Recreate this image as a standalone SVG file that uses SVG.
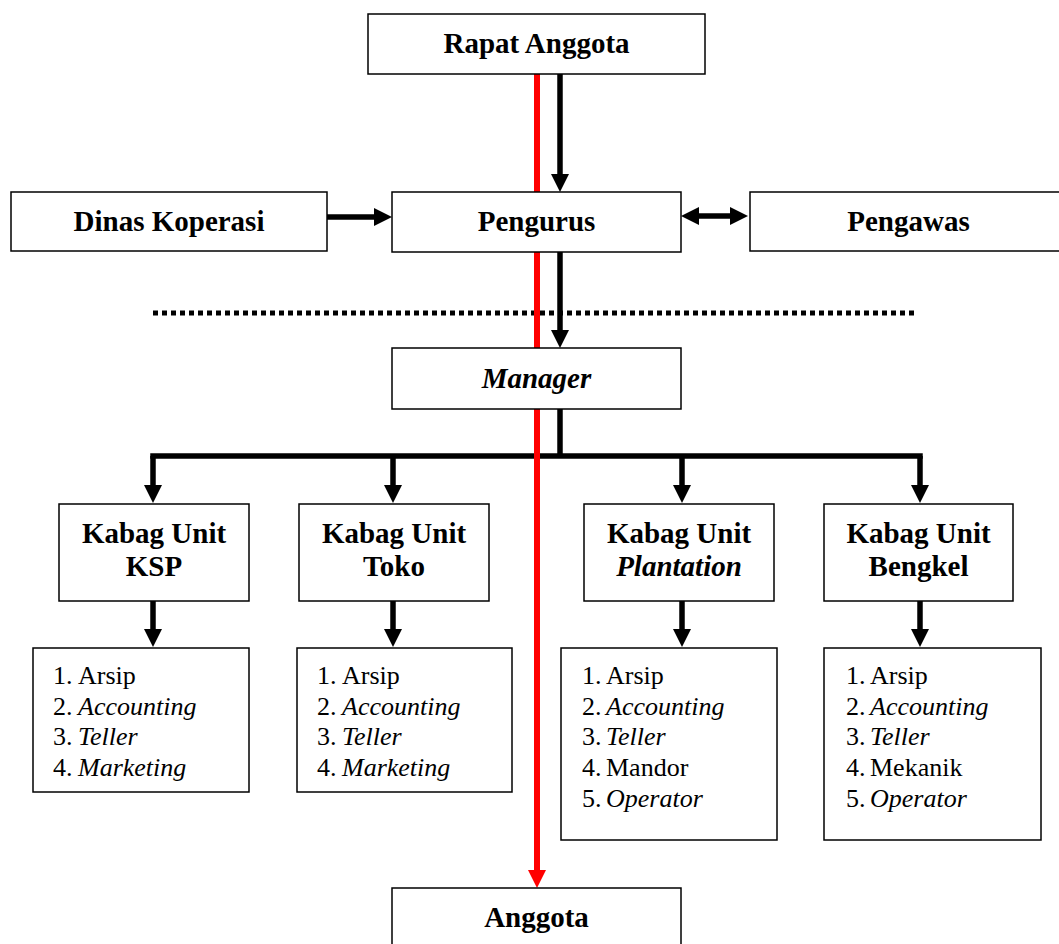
<svg xmlns="http://www.w3.org/2000/svg" width="1059" height="944" viewBox="0 0 1059 944">
<defs>
<style>
.box{fill:#fff;stroke:#000;stroke-width:1.5}
.t{font-family:"Liberation Serif","Times New Roman",serif;font-size:29px;font-weight:bold;fill:#000;text-anchor:middle}
.i{font-style:italic}
.li{font-family:"Liberation Serif","Times New Roman",serif;font-size:26px;fill:#000}
.c{fill:none;stroke:#000;stroke-width:5.5}
.red{fill:none;stroke:#f00;stroke-width:6}
.dot{fill:none;stroke:#000;stroke-width:5;stroke-dasharray:5 4}
</style>
<marker id="ah" markerUnits="userSpaceOnUse" markerWidth="18" markerHeight="18" refX="0" refY="9" orient="auto-start-reverse" viewBox="0 0 18 18">
<path d="M0,0 L18,9 L0,18 Z" fill="#000"/>
</marker>
<marker id="ahr" markerUnits="userSpaceOnUse" markerWidth="18" markerHeight="18" refX="0" refY="9" orient="auto" viewBox="0 0 18 18">
<path d="M0,0 L18,9 L0,18 Z" fill="#f00"/>
</marker>
</defs>
<rect width="1059" height="944" fill="#fff"/>

<g id="connectors">
<path class="dot" d="M153,313 H915"/>
<path class="c" d="M560,74 V174" marker-end="url(#ah)"/>
<path class="c" d="M560,252 V330" marker-end="url(#ah)"/>
<path class="c" d="M327,217 H374" marker-end="url(#ah)"/>
<path class="c" d="M699,216 H730" marker-start="url(#ah)" marker-end="url(#ah)"/>
<path class="c" d="M560,409 V456"/>
<path class="c" d="M150.25,456 H922.75"/>
<path class="c" d="M153,456 V485" marker-end="url(#ah)"/>
<path class="c" d="M393,456 V485" marker-end="url(#ah)"/>
<path class="c" d="M682,456 V485" marker-end="url(#ah)"/>
<path class="c" d="M920,456 V485" marker-end="url(#ah)"/>
<path class="c" d="M153,601 V629" marker-end="url(#ah)"/>
<path class="c" d="M393,601 V629" marker-end="url(#ah)"/>
<path class="c" d="M682,601 V629" marker-end="url(#ah)"/>
<path class="c" d="M920,601 V629" marker-end="url(#ah)"/>
<path class="red" d="M537,74 V870" marker-end="url(#ahr)"/>
</g>

<g id="rapat-anggota">
<rect class="box" x="368" y="14" width="337" height="60"/>
<text class="t" x="536.5" y="53">Rapat Anggota</text>
</g>
<g id="dinas-koperasi">
<rect class="box" x="11" y="192" width="316" height="59"/>
<text class="t" x="169" y="231">Dinas Koperasi</text>
</g>
<g id="pengurus">
<rect class="box" x="392" y="192" width="289" height="60"/>
<text class="t" x="536.5" y="231">Pengurus</text>
</g>
<g id="pengawas">
<rect class="box" x="750" y="192" width="317" height="59"/>
<text class="t" x="908.5" y="231">Pengawas</text>
</g>
<g id="manager">
<rect class="box" x="392" y="348" width="289" height="61"/>
<text class="t i" x="536.5" y="388">Manager</text>
</g>

<g id="kabag-ksp">
<rect class="box" x="59" y="504" width="190" height="97"/>
<text class="t" x="154" y="543">Kabag Unit</text>
<text class="t" x="154" y="576">KSP</text>
</g>
<g id="kabag-toko">
<rect class="box" x="299" y="504" width="190" height="97"/>
<text class="t" x="394" y="543">Kabag Unit</text>
<text class="t" x="394" y="576">Toko</text>
</g>
<g id="kabag-plantation">
<rect class="box" x="584" y="504" width="190" height="97"/>
<text class="t" x="679" y="543">Kabag Unit</text>
<text class="t i" x="679" y="576">Plantation</text>
</g>
<g id="kabag-bengkel">
<rect class="box" x="824" y="504" width="189" height="97"/>
<text class="t" x="918.5" y="543">Kabag Unit</text>
<text class="t" x="918.5" y="576">Bengkel</text>
</g>

<g id="list-ksp">
<rect class="box" x="33" y="648" width="216" height="144"/>
<text class="li" x="53" y="684">1.</text><text class="li" x="78" y="684">Arsip</text>
<text class="li" x="53" y="714.7">2.</text><text class="li i" x="78" y="714.7">Accounting</text>
<text class="li" x="53" y="745.4">3.</text><text class="li i" x="78" y="745.4">Teller</text>
<text class="li" x="53" y="776">4.</text><text class="li i" x="78" y="776">Marketing</text>
</g>
<g id="list-toko">
<rect class="box" x="297" y="648" width="215" height="144"/>
<text class="li" x="317" y="684">1.</text><text class="li" x="342" y="684">Arsip</text>
<text class="li" x="317" y="714.7">2.</text><text class="li i" x="342" y="714.7">Accounting</text>
<text class="li" x="317" y="745.4">3.</text><text class="li i" x="342" y="745.4">Teller</text>
<text class="li" x="317" y="776">4.</text><text class="li i" x="342" y="776">Marketing</text>
</g>
<g id="list-plantation">
<rect class="box" x="561" y="648" width="216" height="192"/>
<text class="li" x="582" y="684">1.</text><text class="li" x="606" y="684">Arsip</text>
<text class="li" x="582" y="714.7">2.</text><text class="li i" x="606" y="714.7">Accounting</text>
<text class="li" x="582" y="745.4">3.</text><text class="li i" x="606" y="745.4">Teller</text>
<text class="li" x="582" y="776">4.</text><text class="li" x="606" y="776">Mandor</text>
<text class="li" x="582" y="806.8">5.</text><text class="li i" x="606" y="806.8">Operator</text>
</g>
<g id="list-bengkel">
<rect class="box" x="824" y="648" width="217" height="192"/>
<text class="li" x="846" y="684">1.</text><text class="li" x="870" y="684">Arsip</text>
<text class="li" x="846" y="714.7">2.</text><text class="li i" x="870" y="714.7">Accounting</text>
<text class="li" x="846" y="745.4">3.</text><text class="li i" x="870" y="745.4">Teller</text>
<text class="li" x="846" y="776">4.</text><text class="li" x="870" y="776">Mekanik</text>
<text class="li" x="846" y="806.8">5.</text><text class="li i" x="870" y="806.8">Operator</text>
</g>

<g id="anggota">
<rect class="box" x="392" y="888" width="289" height="60"/>
<text class="t" x="536.5" y="927">Anggota</text>
</g>
</svg>
